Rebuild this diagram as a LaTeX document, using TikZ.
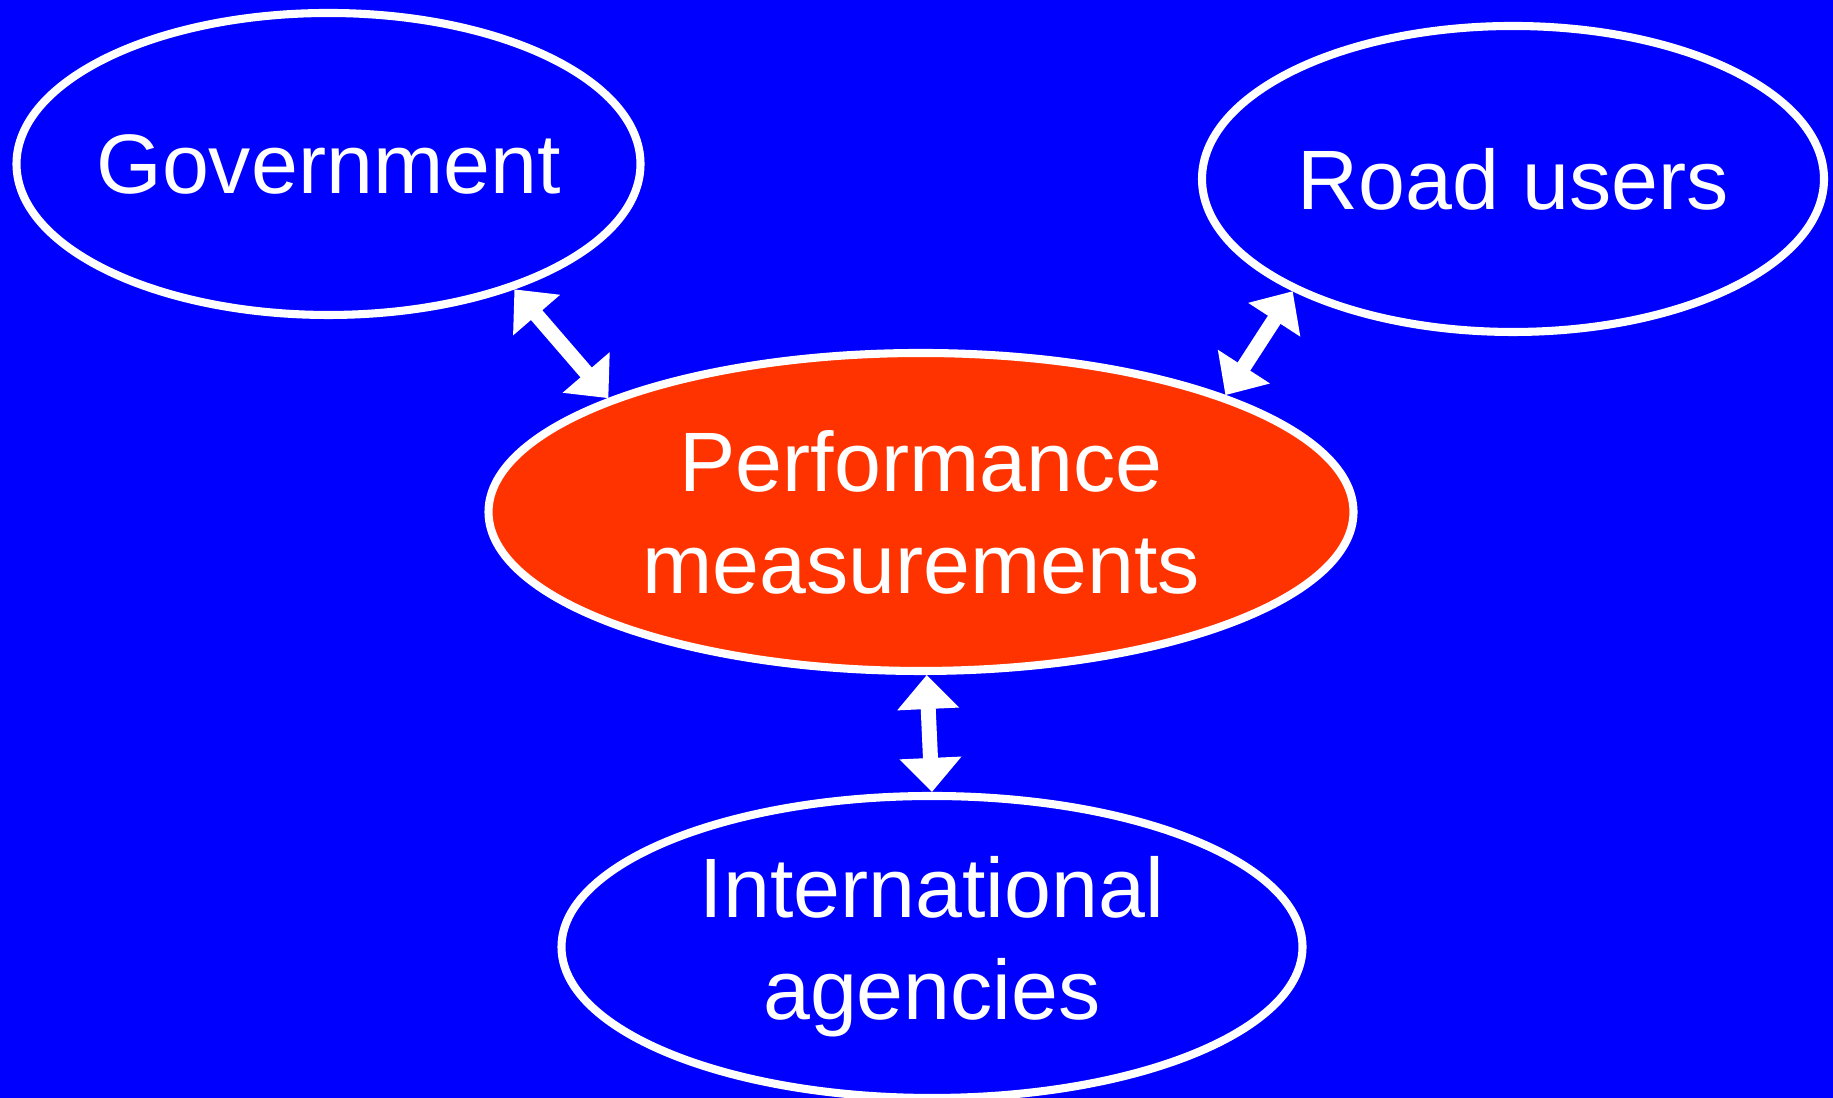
\documentclass[tikz,border=0pt]{standalone}
\usepackage{fontspec}
\setmainfont{Liberation Sans}
\usetikzlibrary{shapes,arrows.meta,positioning}
\definecolor{slideblue}{RGB}{0,0,255}
\definecolor{hotorange}{RGB}{255,51,0}

\begin{document}
\begin{tikzpicture}
[party/.style={shape=ellipse,draw=white,line width=2.3pt,inner sep=0pt,
  text=white,align=center,font=\fontsize{24}{29}\selectfont},
centre/.style={party,fill=hotorange},
link/.style={white,line width=0.15cm,
  {Triangle[width=0.6cm,length=0.34cm]}-{Triangle[width=0.6cm,length=0.34cm]}}]
\fill[slideblue] (0,0) rectangle (18.33,10.98);
\useasboundingbox (0,0) rectangle (18.33,10.98);
%%
\node (gov) [party,inner xsep=-0.12cm,minimum width=6.24cm,minimum height=3.02cm] at (3.285,9.34) {Government};
\node (users) [party,minimum width=6.22cm,minimum height=3.06cm] at (15.13,9.19) {Road users};
\node (perf) [centre,minimum width=8.65cm,minimum height=3.18cm] at (9.21,5.86) {Performance\\measurements};
\node (intl) [party,minimum width=7.41cm,minimum height=3.02cm] at (9.32,1.51) {International\\agencies};
%%
\draw[link] (gov.-34) -- (perf.160);
\draw[link] (users.207) -- (perf.21);
\draw[link] (perf.-88) -- (intl.north);
\end{tikzpicture}
\end{document}
